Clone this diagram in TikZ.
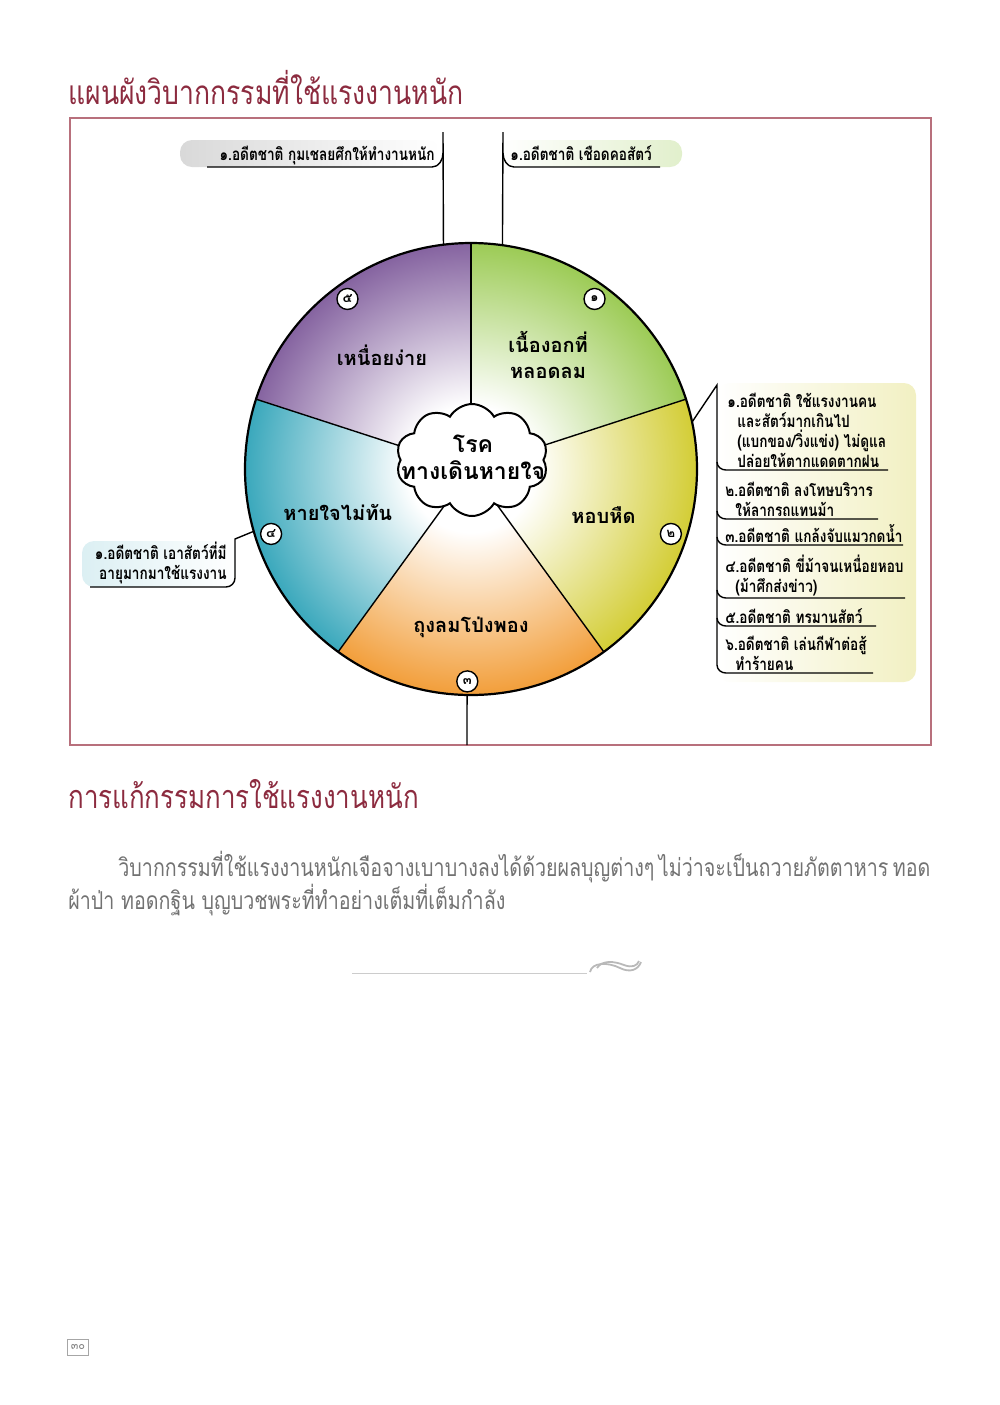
\documentclass[tikz,border=0pt]{standalone}
\usepackage{fontspec}
\usepackage{xcolor}
\usetikzlibrary{shapes.symbols,calc}
\newfontfamily\thai[Script=Thai]{Loma}
\newfontfamily\thaicond[Script=Thai,FakeStretch=0.8]{Loma}
\definecolor{titc}{HTML}{8C2B3F}
\definecolor{framec}{HTML}{B8707C}
\definecolor{grnc}{HTML}{9CCB55}
\definecolor{ylwc}{HTML}{D3CD35}
\definecolor{orgc}{HTML}{F29E3A}
\definecolor{tealc}{HTML}{3AA8BC}
\definecolor{purc}{HTML}{8563A0}
\definecolor{txtc}{HTML}{727272}
\colorlet{piec}{grnc}
\pgfdeclareradialshading[piec]{piefade}{\pgfpoint{0bp}{0bp}}{color(0bp)=(white); color(7bp)=(white); color(25bp)=(piec); color(50bp)=(piec)}
\tikzset{
  conn/.style={line width=0.7pt},
  badge/.style={circle, draw, line width=0.7pt, fill=white, inner sep=0pt, minimum size=10.5pt, font=\thai\bfseries\fontsize{6.5}{7}\selectfont},
  slicelbl/.style={font=\thai\bfseries\fontsize{10}{13}\selectfont, align=center},
  kamma/.style={font=\thaicond\bfseries\fontsize{8.5}{10}\selectfont, align=left, inner sep=0pt},
  headtxt/.style={font=\thaicond\fontsize{16.6}{20}\selectfont, text=titc, inner sep=0pt},
  paratxt/.style={font=\thaicond\fontsize{12.3}{16}\selectfont, text=txtc, inner sep=0pt},
}
\begin{document}
\begin{tikzpicture}[x=0.5pt, y=-0.5pt]
  \useasboundingbox (0,0) rectangle (1000,1405);

  \node[headtxt, anchor=base west] (title) at (68,104) {แผนผังวิบากกรรมที่ใช้แรงงานหนัก};
  \draw[framec, line width=0.6pt] (70,118) rectangle (931,745);

  % pie of five slices
  \node[circle, minimum size=226pt, inner sep=0pt, outer sep=0pt] (pie) at (471,469) {};
  \foreach \a/\b/\c in {90/18/grnc, 18/-54/ylwc, -54/-126/orgc, -126/-198/tealc, 162/90/purc} {
    \begin{scope}
      \clip (pie.center) -- ($(pie.center)!2!(pie.\a)$) -- ($(pie.center)!2!(pie.\b)$) -- cycle;
      \colorlet{piec}{\c}
      \shade[shading=piefade] (pie.center) circle[radius=226];
    \end{scope}
  }
  \foreach \a in {90,18,306,234,162}
    \draw[line width=0.7pt] (pie.center) -- (pie.\a);
  \draw[line width=1.1pt] (pie.center) circle[radius=226];

  \node[cloud, draw, fill=white, line width=1pt, cloud puffs=10, cloud puff arc=120, aspect=1.3,
    minimum width=76pt, minimum height=56pt, inner sep=0pt] (cloud) at (472,460) {};
  \node[slicelbl, font=\thai\bfseries\fontsize{11.5}{13.5}\selectfont] (cloudtxt) at (473,457) {โรค\\ทางเดินหายใจ};

  \node[slicelbl] (s1) at ($(pie.center)!0.61!(pie.56)$) {เนื้องอกที่\\หลอดลม};
  \node[slicelbl] (s2) at ($(pie.center)!0.62!(pie.341)$) {หอบหืด};
  \node[slicelbl] (s3) at ($(pie.center)!0.70!(pie.270)$) {ถุงลมโป่งพอง};
  \node[slicelbl] (s4) at ($(pie.center)!0.62!(pie.198)$) {หายใจไม่ทัน};
  \node[slicelbl] (s5) at ($(pie.center)!0.64!(pie.128)$) {เหนื่อยง่าย};

  \node[badge] (b1) at ($(pie.center)!0.93!(pie.54)$) {๑};
  \node[badge] (b2) at ($(pie.center)!0.93!(pie.342)$) {๒};
  \node[badge] (b3) at ($(pie.center)!0.94!(pie.269)$) {๓};
  \node[badge] (b4) at ($(pie.center)!0.93!(pie.198)$) {๔};
  \node[badge] (b5) at ($(pie.center)!0.93!(pie.126)$) {๕};

  % label boxes
  \shade[left color=gray!30, right color=white, rounded corners=6] (180,140) rectangle (440,167);
  \shade[left color=white, right color=grnc!30, rounded corners=6] (500,140) rectangle (682,167);
  \shade[left color=white, right color=ylwc!30, rounded corners=6] (717,383) rectangle (916,682);
  \shade[left color=tealc!18, right color=white, rounded corners=6] (82,541) rectangle (236,587);

  % connectors
  \coordinate (tltop) at (443,132);
  \draw[conn] (tltop) -- (pie.97);
  \draw[conn] (207,167) -- (432,167) to[out=0, in=-90] (443,153);
  \coordinate (trtop) at (503,132);
  \draw[conn] (trtop) -- (pie.82);
  \draw[conn] (503,153) to[out=-90, in=180] (514,167) -- (660,167);
  \coordinate (rtop) at (717,385);
  \draw[conn] (pie.12) -- (rtop) -- (717,665) to[out=-90, in=180] (726,673) -- (873,673);
  \draw[conn] (717,462) to[out=-90, in=180] (726,470) -- (888,470);
  \draw[conn] (717,511) to[out=-90, in=180] (726,519) -- (878,519);
  \draw[conn] (717,537) to[out=-90, in=180] (726,545) -- (903,545);
  \draw[conn] (717,590) to[out=-90, in=180] (726,598) -- (905,598);
  \draw[conn] (717,618) to[out=-90, in=180] (726,626) -- (876,626);
  \coordinate (ltop) at (235,539);
  \draw[conn] (pie.196) -- (ltop) -- (235,578) to[out=-90, in=0] (226,587) -- (90,587);
  \coordinate (bbot) at (467,745);
  \draw[conn] (pie.269) -- (bbot);

  % past-life texts
  \node[kamma, anchor=base east] (k1) at (435,160) {๑.อดีตชาติ กุมเชลยศึกให้ทำงานหนัก};
  \node[kamma, anchor=base west] (k2) at (510,160) {๑.อดีตชาติ เชือดคอสัตว์};
  \node[kamma, anchor=south west] (r1) at (727,468) {๑.อดีตชาติ ใช้แรงงานคน\\\hspace*{5pt}และสัตว์มากเกินไป\\\hspace*{5pt}(แบกของ/วิ่งแข่ง) ไม่ดูแล\\\hspace*{5pt}ปล่อยให้ตากแดดตากฝน};
  \node[kamma, anchor=south west] (r2) at (725,517) {๒.อดีตชาติ ลงโทษบริวาร\\\hspace*{5pt}ให้ลากรถแทนม้า};
  \node[kamma, anchor=south west] (r3) at (725,543) {๓.อดีตชาติ แกล้งจับแมวกดน้ำ};
  \node[kamma, anchor=south west] (r4) at (725,596) {๔.อดีตชาติ ขี่ม้าจนเหนื่อยหอบ\\\hspace*{5pt}(ม้าศึกส่งข่าว)};
  \node[kamma, anchor=south west] (r5) at (725,624) {๕.อดีตชาติ ทรมานสัตว์};
  \node[kamma, anchor=south west] (r6) at (725,671) {๖.อดีตชาติ เล่นกีฬาต่อสู้\\\hspace*{5pt}ทำร้ายคน};
  \node[kamma, align=right, anchor=south east] (l1) at (227,584) {๑.อดีตชาติ เอาสัตว์ที่มี\\อายุมากมาใช้แรงงาน};

  % remedy
  \node[headtxt, anchor=base west, font=\thaicond\fontsize{16.2}{20}\selectfont] (remedy) at (68,808) {การแก้กรรมการใช้แรงงานหนัก};
  \node[paratxt, anchor=base west] (para1) at (118,876) {\makebox[405pt][s]{วิบากกรรมที่ใช้แรงงานหนักเจือจางเบาบางลงได้ด้วยผลบุญต่างๆ ไม่ว่าจะเป็นถวายภัตตาหาร ทอด}};
  \node[paratxt, anchor=base west] (para2) at (68,909) {ผ้าป่า ทอดกฐิน บุญบวชพระที่ทำอย่างเต็มที่เต็มกำลัง};

  % divider
  \draw[gray!40, line width=0.5pt] (352,973) -- (587,973);
  \draw[gray!55, line width=0.9pt] (590,972) .. controls (592,962) and (608,962) .. (620,968) .. controls (630,973) and (638,970) .. (641,962);
  \draw[gray!55, line width=0.9pt] (597,968) .. controls (602,960) and (614,961) .. (624,965) .. controls (632,968) and (637,966) .. (639,961);

  \node[draw=gray!70, line width=0.5pt, text=gray, font=\thai\fontsize{5.5}{6}\selectfont, inner sep=1.5pt,
    minimum width=10pt, minimum height=8pt] (pgno) at (78,1347) {๓๐};
\end{tikzpicture}
\end{document}
